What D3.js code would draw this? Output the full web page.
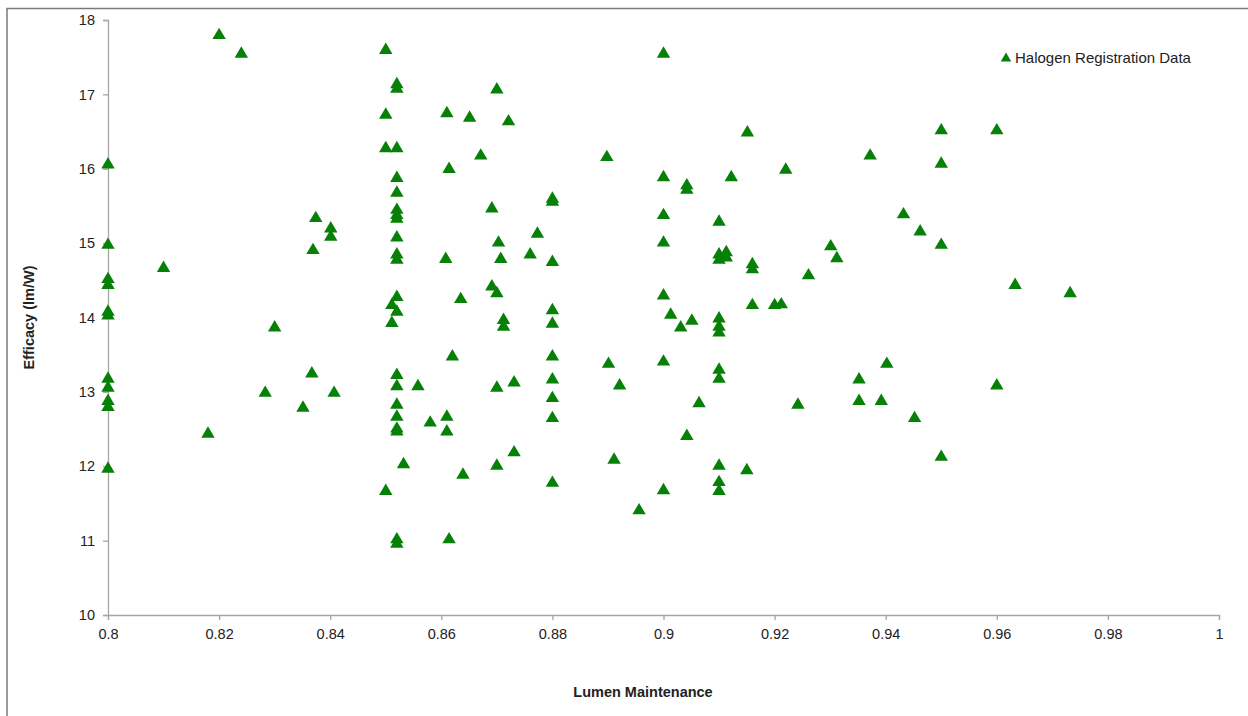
<!DOCTYPE html>
<html>
<head>
<meta charset="utf-8">
<script src="https://cdn.jsdelivr.net/npm/d3@7"></script>
<style>
  html, body { margin: 0; padding: 0; background: #fff; }
  svg { display: block; }
  text { font-family: "Liberation Sans", "DejaVu Sans", sans-serif; fill: #222; }
</style>
</head>
<body>
<svg id="chart" width="1248" height="716"></svg>
<script>
// Halogen lamp registrations: lumen maintenance vs. efficacy
const lumenMaintenance = [
  0.8, 0.8, 0.8, 0.8, 0.8, 0.8, 0.8, 0.8, 0.8, 0.8, 0.8,
  0.81, 0.818, 0.82, 0.824, 0.8283, 0.830, 0.8351, 0.8367, 0.8369, 0.8374,
  0.8401, 0.8401, 0.8407,
  0.85, 0.85, 0.85, 0.85, 0.8511, 0.8511,
  0.852, 0.852, 0.852, 0.852, 0.852, 0.852, 0.852, 0.852, 0.852, 0.852, 0.852,
  0.852, 0.852, 0.852, 0.852, 0.852, 0.852, 0.852, 0.852, 0.852, 0.852,
  0.8532, 0.8558, 0.858, 0.8608, 0.861, 0.861, 0.861, 0.8614, 0.8614, 0.862,
  0.8635, 0.8639, 0.8651, 0.8671, 0.8691, 0.8691,
  0.870, 0.870, 0.870, 0.870, 0.8703, 0.8707, 0.8712, 0.8712, 0.8721,
  0.8731, 0.8731, 0.876, 0.8773,
  0.88, 0.88, 0.88, 0.88, 0.88, 0.88, 0.88, 0.88, 0.88, 0.88,
  0.8898, 0.8901, 0.8911, 0.8921, 0.8956,
  0.90, 0.90, 0.90, 0.90, 0.90, 0.90, 0.90,
  0.9013, 0.9031, 0.9042, 0.9042, 0.9042, 0.9051, 0.9064,
  0.91, 0.91, 0.91, 0.91, 0.91, 0.91, 0.91, 0.91, 0.91, 0.91, 0.91,
  0.9113, 0.9113, 0.9122, 0.915, 0.9151, 0.916, 0.916, 0.916,
  0.92, 0.9212, 0.922, 0.9242, 0.9261, 0.9301, 0.9312, 0.9352, 0.9352,
  0.9372, 0.9392, 0.9402, 0.9432, 0.9452, 0.9462,
  0.95, 0.95, 0.95, 0.95, 0.96, 0.96, 0.9633, 0.9732
];
const efficacy = [
  16.08, 15.0, 14.54, 14.46, 14.10, 14.05, 13.2, 13.08, 12.9, 12.82, 11.99,
  14.69, 12.46, 17.82, 17.57, 13.01, 13.89, 12.81, 13.27, 14.93, 15.36,
  15.22, 15.11, 13.01,
  17.62, 16.75, 16.3, 11.69, 14.19, 13.95,
  17.16, 17.1, 16.3, 15.9, 15.7, 15.47, 15.4, 15.35, 15.1, 14.87, 14.8,
  14.3, 14.1, 13.25, 13.1, 12.85, 12.69, 12.53, 12.49, 11.04, 10.98,
  12.05, 13.1, 12.61, 14.81, 16.77, 12.69, 12.49, 16.02, 11.04, 13.5,
  14.27, 11.91, 16.71, 16.2, 15.49, 14.44,
  17.09, 14.35, 13.08, 12.03, 15.03, 14.81, 13.99, 13.9, 16.66,
  13.15, 12.21, 14.87, 15.15,
  15.62, 15.58, 14.77, 14.12, 13.94, 13.5, 13.19, 12.94, 12.67, 11.8,
  16.18, 13.4, 12.11, 13.11, 11.43,
  17.57, 15.91, 15.4, 15.03, 14.32, 13.43, 11.7,
  14.06, 13.89, 15.80, 15.74, 12.43, 13.98, 12.87,
  15.31, 14.87, 14.80, 14.01, 13.9, 13.82, 13.32, 13.2, 12.03, 11.81, 11.69,
  14.90, 14.83, 15.91, 11.97, 16.51, 14.74, 14.67, 14.19,
  14.19, 14.2, 16.01, 12.85, 14.59, 14.98, 14.82, 13.19, 12.9,
  16.2, 12.9, 13.4, 15.41, 12.67, 15.18,
  16.54, 16.09, 15.0, 12.15, 16.54, 13.11, 14.46, 14.35
];

const xTicks = [0.8, 0.82, 0.84, 0.86, 0.88, 0.9, 0.92, 0.94, 0.96, 0.98, 1];
const yTicks = [10, 11, 12, 13, 14, 15, 16, 17, 18];
const seriesName = "Halogen Registration Data";
const xTitle = "Lumen Maintenance";
const yTitle = "Efficacy (lm/W)";

const points = lumenMaintenance.map((x, i) => ({ x, y: efficacy[i] }));

const svg = d3.select("#chart");
const margin = { left: 108, right: 29, top: 20, bottom: 101 };
const width = 1248, height = 716;

const x = d3.scaleLinear().domain([0.8, 1]).range([margin.left, width - margin.right]);
const y = d3.scaleLinear().domain([10, 18]).range([height - margin.bottom, margin.top]);

const axisColor = "#a6a6a6";
const markColor = "#078007";

// outer chart frame
svg.append("rect")
  .attr("x", 7).attr("y", 8.5)
  .attr("width", 1300).attr("height", 800)
  .attr("fill", "none").attr("stroke", "#7a7a7a").attr("stroke-width", 1.5);

// y axis
const yAxis = svg.append("g")
  .attr("transform", `translate(${margin.left},0)`)
  .call(d3.axisLeft(y).tickValues(yTicks).tickSize(5).tickPadding(8).tickFormat(d3.format("d")));

// x axis
const xAxis = svg.append("g")
  .attr("transform", `translate(0,${height - margin.bottom})`)
  .call(d3.axisBottom(x).tickValues(xTicks).tickSize(5).tickPadding(9).tickFormat(d => String(d)));

[xAxis, yAxis].forEach(g => {
  g.select(".domain").attr("stroke", axisColor).attr("stroke-width", 1.3);
  g.selectAll(".tick line").attr("stroke", axisColor).attr("stroke-width", 1.3);
  g.selectAll(".tick text")
    .attr("fill", "#222")
    .style("font-family", "'Liberation Sans', sans-serif")
    .style("font-size", "14.5px");
});

// triangle marker, centred on its bounding box
const triangleShape = {
  draw(ctx, size) {
    const w = Math.sqrt(size);   // base width
    const h = w * 0.85;          // height
    ctx.moveTo(0, -h / 2);
    ctx.lineTo(w / 2, h / 2);
    ctx.lineTo(-w / 2, h / 2);
    ctx.closePath();
  }
};
const marker = d3.symbol().type(triangleShape).size(180);

svg.append("g")
  .selectAll("path")
  .data(points)
  .join("path")
  .attr("transform", d => `translate(${x(d.x)},${y(d.y)})`)
  .attr("d", marker)
  .attr("fill", markColor);

// axis titles
svg.append("text")
  .attr("x", 643)
  .attr("y", 697)
  .attr("text-anchor", "middle")
  .style("font-weight", "bold")
  .style("font-size", "14.5px")
  .text(xTitle);

svg.append("text")
  .attr("transform", `translate(34,${(margin.top + height - margin.bottom) / 2}) rotate(-90)`)
  .attr("text-anchor", "middle")
  .style("font-weight", "bold")
  .style("font-size", "14.5px")
  .text(yTitle);

// legend
const legend = svg.append("g").attr("transform", "translate(1006,57)");
legend.append("path")
  .attr("d", d3.symbol().type(triangleShape).size(110))
  .attr("fill", markColor);
legend.append("text")
  .attr("x", 9)
  .attr("y", 5.5)
  .style("font-size", "15px")
  .text(seriesName);
</script>
</body>
</html>
